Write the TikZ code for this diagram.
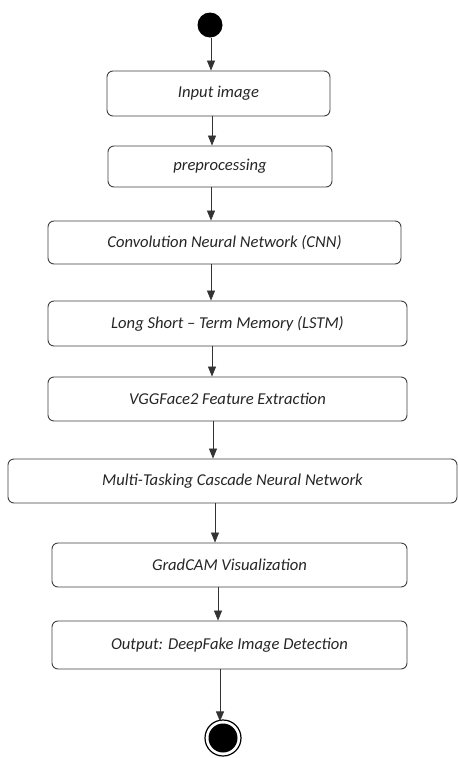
\documentclass[tikz,border=0pt]{standalone}
\usepackage{fontspec}
\setmainfont{Carlito}
\usetikzlibrary{arrows.meta}
\tikzset{
  stepbox/.style={draw=black!75, line width=0.9pt, rounded corners=6pt, inner sep=0pt,
    font=\fontsize{16.6}{18}\selectfont\itshape, text=black!85},
  arr/.style={draw=black!80, line width=0.8pt, -{Triangle[length=10pt,width=8pt]}},
}
\newcommand{\mybox}[6]{% name, x1, y1, x2, y2, text
  \node[stepbox, minimum width={#4-#2}, minimum height={#5-#3}] (#1) at ({(#2+#4)/2},{(#3+#5)/2}) {#6};}
\begin{document}
\begin{tikzpicture}[x=1pt,y=-1pt]
\useasboundingbox[fill=white] (0,0) rectangle (458,758);
\node[circle, fill=black, minimum size=25pt, inner sep=0pt] (start) at (210,25) {};
\mybox{b1}{107}{71}{330}{116}{Input image}
\mybox{b2}{108}{146}{332}{187}{preprocessing}
\mybox{b3}{48}{221}{401}{264}{Convolution Neural Network (CNN)}
\mybox{b4}{48}{301}{407}{346}{Long Short -- Term Memory (LSTM)}
\mybox{b5}{48}{377}{407}{421}{VGGFace2 Feature Extraction}
\mybox{b6}{8}{459}{457}{503}{Multi-Tasking Cascade Neural Network}
\mybox{b7}{52}{543}{407}{587}{GradCAM Visualization}
\mybox{b8}{52}{621}{407}{669}{Output: DeepFake Image Detection}
\node[circle, draw=black, line width=1.2pt, minimum size=36pt, inner sep=0pt] (end) at (223,738) {};
\node[circle, fill=black, minimum size=29pt, inner sep=0pt] (endin) at (end.center) {};
\coordinate (xa) at (211,0);
\coordinate (xb) at (212,0);
\coordinate (xc) at (211,0);
\coordinate (xd) at (211,0);
\coordinate (xe) at (212,0);
\coordinate (xf) at (213,0);
\coordinate (xg) at (215,0);
\coordinate (xh) at (218,0);
\coordinate (xi) at (220,0);
\draw[arr] (start.south -| xa) -- (b1.north -| xa);
\draw[arr] (b1.south -| xb) -- (b2.north -| xb);
\draw[arr] (b2.south -| xc) -- (b3.north -| xc);
\draw[arr] (b3.south -| xd) -- (b4.north -| xd);
\draw[arr] (b4.south -| xe) -- (b5.north -| xe);
\draw[arr] (b5.south -| xf) -- (b6.north -| xf);
\draw[arr] (b6.south -| xg) -- (b7.north -| xg);
\draw[arr] (b7.south -| xh) -- (b8.north -| xh);
\draw[arr] (b8.south -| xi) -- ([yshift=-2pt]end.north -| xi);
\end{tikzpicture}
\end{document}
